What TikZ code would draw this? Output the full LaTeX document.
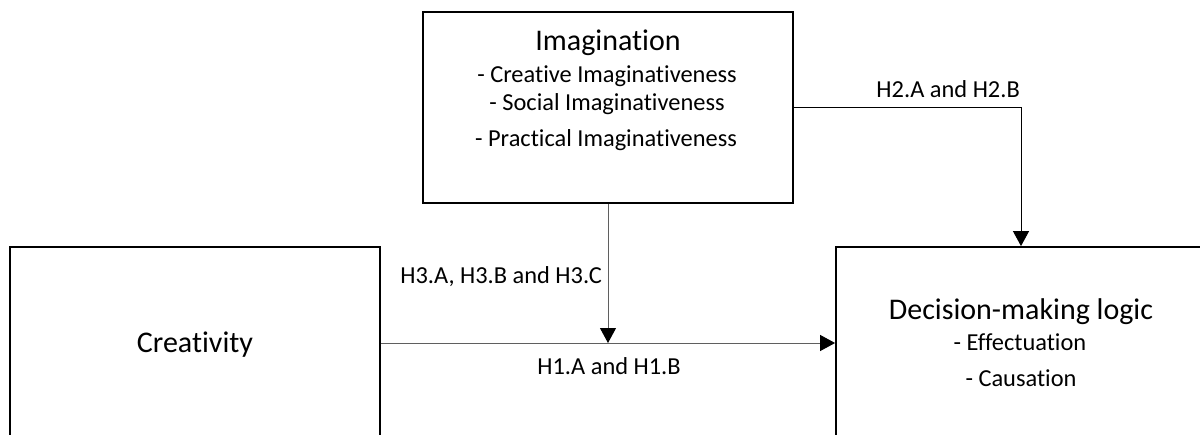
\documentclass[tikz,border=0pt]{standalone}
\usepackage{fontspec}
\setmainfont{Carlito}[Ligatures={NoCommon}]
\usetikzlibrary{arrows.meta}
\tikzset{
  box/.style={draw=black, line width=1.8pt, fill=none, inner sep=0pt, rectangle},
  title/.style={anchor=base, inner sep=0pt, font=\fontsize{30}{36}\selectfont},
  item/.style={anchor=base, inner sep=0pt, font=\fontsize{24.4}{29}\selectfont},
  lbl/.style={inner sep=0pt, font=\fontsize{24.4}{29}\selectfont},
  conn/.style={line width=1pt, draw={rgb,255:red,95;green,95;blue,95}, -{Triangle[width=16pt,length=15pt,color=black]}},
  conndark/.style={line width=1pt, draw=black, -{Triangle[width=16pt,length=15pt,color=black]}}
}
\begin{document}
\begin{tikzpicture}[x=1pt,y=-1pt]
\useasboundingbox (0,0) rectangle (1200,434);
\begin{scope}
\clip (0,0) rectangle (1200,434);
% boxes
\node[box, minimum width=370pt, minimum height=191pt] (imag) at (608,107.5) {};
\node[box, minimum width=370pt, minimum height=192pt] (creat) at (195,343) {};
\node[box, minimum width=370pt, minimum height=192pt] (dec) at (1021,343) {};
% texts
\node[title] (imagt) at (608,50) {Imagination};
\node[item] (imag1) at (607,82) {- Creative Imaginativeness};
\node[item] (imag2) at (607,110) {- Social Imaginativeness};
\node[item] (imag3) at (606,146) {- Practical Imaginativeness};
\node[title] (creatt) at (195,352) {Creativity};
\node[title] (dect) at (1021,319) {Decision-making logic};
\node[item] (dec1) at (1020,350) {- Effectuation};
\node[item] (dec2) at (1021,386) {- Causation};
% connectors
\coordinate (m) at (imag.south |- creat.east);
\draw[conn] (creat.east) -- (dec.west);
\draw[conn] (imag.south) -- (m);
\draw[conndark] (imag.east) -| (dec.north);
% labels
\node[lbl, anchor=base east] (h3) at (602,283) {H3.A, H3.B and H3.C};
\node[lbl, anchor=base] (h1) at (609,374) {H1.A and H1.B};
\node[lbl, anchor=base east] (h2) at (1020,97) {H2.A and H2.B};
\end{scope}
\end{tikzpicture}
\end{document}
